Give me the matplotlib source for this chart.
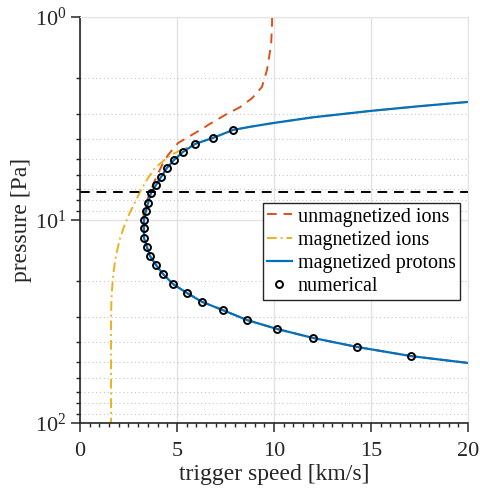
import numpy as np
import matplotlib
matplotlib.use("Agg")
import matplotlib.pyplot as plt
from matplotlib.ticker import FixedLocator, LogLocator, NullFormatter

plt.rcParams['font.family'] = ['Liberation Serif', 'DejaVu Serif']
plt.rcParams['mathtext.fontset'] = 'custom'
plt.rcParams['mathtext.rm'] = 'Liberation Serif'
plt.rcParams['mathtext.it'] = 'Liberation Serif:italic'

# numerical points (speed km/s, pressure Pa)
num_speed = [7.89, 6.86, 5.93, 5.31, 4.85, 4.48, 4.18, 3.92, 3.66, 3.51, 3.40, 3.30, 3.30, 3.30,
             3.45, 3.61, 3.92, 4.28, 4.79, 5.52, 6.29, 7.37, 8.61, 10.15, 12.01, 14.28, 17.06]
num_press = [3.60, 3.94, 4.22, 4.62, 5.06, 5.54, 6.14, 6.72, 7.36, 8.25, 9.03, 10.0, 10.95, 12.27,
             13.58, 15.04, 16.66, 18.45, 20.66, 22.9, 25.3, 27.8, 31.1, 34.4, 38.1, 42.2, 46.8]

# magnetized protons
prot_speed = [20.0, 17.5, 15.0, 12.0, 9.95, 8.8] + num_speed + [20.0]
prot_press = [2.62, 2.75, 2.90, 3.12, 3.33, 3.47] + num_press + [50.6]

# unmagnetized ions
unmag_speed = [9.90, 9.90, 9.85, 9.64, 9.38, 8.87, 8.25, 7.58, 6.86, 6.03, 5.05, 4.54, 4.23,
               3.87, 3.56, 3.30, 3.25, 3.30] + num_speed[14:] + [20.0]
unmag_press = [1.0, 1.07, 1.37, 1.82, 2.21, 2.51, 2.78, 3.00, 3.29, 3.68, 4.18, 4.78, 5.36,
               6.35, 7.53, 8.93, 10.2, 11.9] + num_press[14:] + [50.6]

# magnetized ions
mion_speed = [20.0, 17.5, 15.0, 12.0, 9.95, 8.8, 7.89, 6.86, 5.93, 5.26, 4.90, 4.54, 4.23,
              3.87, 3.51, 3.20, 2.84, 2.54, 2.28, 2.07, 1.92, 1.80, 1.72, 1.66, 1.62,
              1.60, 1.60]
mion_press = [2.62, 2.75, 2.90, 3.12, 3.33, 3.47, 3.60, 3.94, 4.22, 4.50, 4.67, 4.89, 5.18,
              5.54, 6.20, 6.95, 8.15, 9.34, 10.71, 12.27, 14.05, 16.1, 18.45, 21.38, 24.78,
              31.1, 100.0]

threshold = 7.3

blue = '#0072BD'
orange = '#D95319'
yellow = '#EDB120'
gridc = '#e3e3e3'

fig = plt.figure(figsize=(4.81, 4.90), dpi=100)
ax = fig.add_axes([0.1663, 0.1367, 0.8067, 0.8286])

ax.plot(unmag_speed, unmag_press, '--', color=orange, lw=1.4, dashes=(5, 3.5),
        label='unmagnetized ions')
ax.plot(mion_speed, mion_press, '-.', color=yellow, lw=1.4, dashes=(5, 2, 1, 2),
        label='magnetized ions')
ax.plot(prot_speed, prot_press, '-', color=blue, lw=1.6, label='magnetized protons')
ax.plot(num_speed, num_press, 'o', ms=5, mfc='none', mec='black', mew=1.4,
        label='numerical')
ax.axhline(threshold, color='black', ls='--', lw=1.4, dashes=(5, 3.5))

ax.set_yscale('log')
ax.set_xlim(0, 20)
ax.set_ylim(100, 1)

ax.xaxis.set_major_locator(FixedLocator([0, 5, 10, 15, 20]))
ax.xaxis.set_minor_locator(FixedLocator(np.arange(0, 20.01, 0.5)))
ax.yaxis.set_major_locator(FixedLocator([1, 10, 100]))
ax.yaxis.set_minor_locator(LogLocator(base=10, subs=np.arange(2, 10)))
ax.yaxis.set_minor_formatter(NullFormatter())
ax.set_yticklabels([r'$10^0$', r'$10^1$', r'$10^2$'])

ax.tick_params(which='major', direction='out', length=6.5, width=1.1, labelsize=16,
               color='#262626', labelcolor='#262626')
ax.tick_params(which='minor', direction='out', length=3.2, width=1.0, color='#262626')
ax.tick_params(axis='x', which='major', pad=7)

ax.grid(True, which='major', color=gridc, lw=1.0)
ax.grid(True, which='minor', axis='y', color='#c8c8c8', lw=0.8, ls=(0, (1, 2.5)))
ax.set_axisbelow(True)

for s in ['top', 'right']:
    ax.spines[s].set_color(gridc)
for s in ['left', 'bottom']:
    ax.spines[s].set_color('#262626')
    ax.spines[s].set_linewidth(1.2)

ax.set_xlabel('trigger speed [km/s]', fontsize=17, color='#262626', labelpad=2)
ax.set_ylabel('pressure [Pa]', fontsize=17, color='#262626', labelpad=2)

leg = ax.legend(loc='upper left', bbox_to_anchor=(0.4716, 0.5419), borderaxespad=0,
                fontsize=14.5, fancybox=False, framealpha=1, edgecolor='#262626',
                handlelength=1.2, handletextpad=0.3, labelspacing=0.2, borderpad=0.22)
leg.get_frame().set_linewidth(1.0)

fig.savefig('out.png', dpi=100)
